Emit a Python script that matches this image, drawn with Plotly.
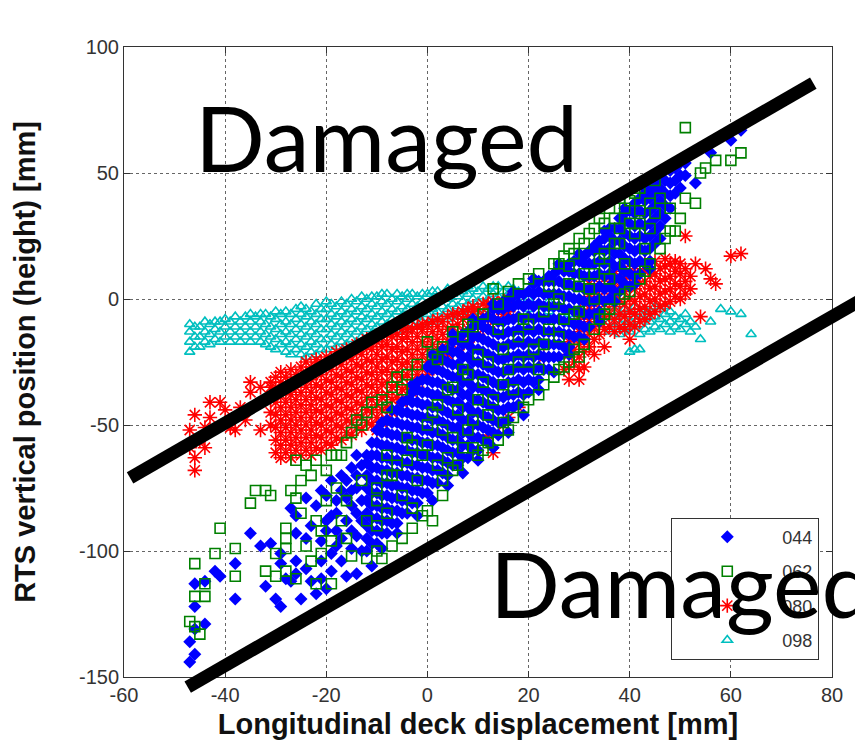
import plotly.graph_objects as go

# ---------------------------------------------------------------------------
# Measured points: longitudinal deck displacement [mm] vs RTS height [mm].
# Scattered points are (x, y) pairs; dense parts are (x, [y, y, ...]) columns.
# ---------------------------------------------------------------------------
tail_044 = [
    (-47,-144),(-46,-141),(-47,-136),(-46,-131),(-44,-129),(-46,-122),(-38,-119),(-46,-113),
    (-44,-112),(-41,-110),(-42,-108),(-38,-105),(-35,-93),(-33,-98),(-31,-97),(-32,-114),
    (-30,-119),(-29,-122),(-25,-119),(-22,-117),(-20,-115),(-27,-112),(-28,-111),(-26,-109),
    (-23,-112),(-21,-111),(-14,-109),(-11,-106),(-29,-101),(-29,-105),(-26,-104),(-24,-107),
    (-21,-104),(-27,-83),(-26,-86),(-24,-79),(-22,-82),(-21,-76),(-19,-72),(-17,-70),(-15,-67),
    (-14,-62),(-18,-85),(-18,-92),(-21,-96),(-24,-95),(-26,-93),(-15,-99),(-17,-95),(-15,-92),
    (-14,-85),(-16,-79),(-14,-75),(-19,-101),(-23,-90),(-20,-88),
    (-20,-92),(-19,-86),(-18,-80),(-17,-76),(-16,-72),(-16,-88),(-15,-82),(-15,-76),(-14,-70),
    (-14,-94),(-13,-88),(-13,-80),(-13,-66),(-19,-108),(-17,-104),(-16,-110),(-13,-100),
    (-18,-98),(-20,-78),
    (-9,-99),(-6,-93),(-2,-86),(1,-80),(4,-74),(7,-69),(10,-64),(13,-59),(16,-53),(19,-46),
    (22,-36),(25,-29),(28,-22),(31,-16),(34,-9),(37,-1),(41,6),(44,12),
    (-11,-57),(-7,-44),(-3,-34),(1,-22),(5,-14),(9,-8),(13,-2),(17,3),(21,8),(26,14),(30,18),
    (35,27),(39,36),(43,44),
    (53,46),(56,58),(60,63),(62,67),
]
core_044 = [
    (-12,[-100,-95,-90,-85,-80,-75,-70,-65,-62]),
    (-11,[-97,-92,-87,-82,-77,-72,-67,-62]),
    (-10,[-97,-92,-87,-82,-77,-72,-67,-62,-57,-52]),
    (-9,[-93,-88,-83,-78,-73,-68,-63,-58,-53,-49]),
    (-8,[-93,-88,-83,-78,-73,-68,-63,-58,-53,-48]),
    (-7,[-89,-84,-79,-74,-69,-64,-59,-54,-49]),
    (-6,[-89,-84,-79,-74,-69,-64,-59,-54,-49,-44]),
    (-5,[-85,-80,-75,-70,-65,-60,-55,-50,-45,-41]),
    (-4,[-85,-80,-75,-70,-65,-60,-55,-50,-45,-40]),
    (-3,[-81,-76,-71,-66,-61,-56,-51,-46,-41,-37]),
    (-2,[-81,-76,-71,-66,-61,-56,-51,-46,-41,-36,-33]),
    (-1,[-77,-72,-67,-62,-57,-52,-47,-42,-37,-32]),
    (0,[-77,-72,-67,-62,-57,-52,-47,-42,-37,-32,-27]),
    (1,[-73,-68,-63,-58,-53,-48,-43,-38,-33,-28,-25]),
    (2,[-73,-68,-63,-58,-53,-48,-43,-38,-33,-28,-23]),
    (3,[-69,-64,-59,-54,-49,-44,-39,-34,-29,-24,-20]),
    (4,[-70,-65,-60,-55,-50,-45,-40,-35,-30,-25,-20]),
    (5,[-66,-61,-56,-51,-46,-41,-36,-31,-26,-21,-17]),
    (6,[-66,-61,-56,-51,-46,-41,-36,-31,-26,-21,-16]),
    (7,[-63,-58,-53,-48,-43,-38,-33,-28,-23,-18,-14]),
    (8,[-63,-58,-53,-48,-43,-38,-33,-28,-23,-18,-13]),
    (9,[-60,-55,-50,-45,-40,-35,-30,-25,-20,-15,-11]),
    (10,[-60,-55,-50,-45,-40,-35,-30,-25,-20,-15,-10]),
    (11,[-56,-51,-46,-41,-36,-31,-26,-21,-16,-11,-8]),
    (12,[-57,-52,-47,-42,-37,-32,-27,-22,-17,-12,-7]),
    (13,[-53,-48,-43,-38,-33,-28,-23,-18,-13,-8,-4]),
    (14,[-54,-49,-44,-39,-34,-29,-24,-19,-14,-9,-4]),
    (15,[-49,-44,-39,-34,-29,-24,-19,-14,-9,-4,-1]),
    (16,[-48,-43,-38,-33,-28,-23,-18,-13,-8,-3,0]),
    (17,[-43,-38,-33,-28,-23,-18,-13,-8,-3,1]),
    (18,[-42,-37,-32,-27,-22,-17,-12,-7,-2,2]),
    (19,[-38,-33,-28,-23,-18,-13,-8,-3,2]),
    (20,[-37,-32,-27,-22,-17,-12,-7,-2,3]),
    (21,[-33,-28,-23,-18,-13,-8,-3,2,6]),
    (22,[-32,-27,-22,-17,-12,-7,-2,3,7]),
    (23,[-28,-23,-18,-13,-8,-3,2,7]),
    (24,[-28,-23,-18,-13,-8,-3,2,7,9]),
    (25,[-23,-18,-13,-8,-3,2,7,10]),
    (26,[-23,-18,-13,-8,-3,2,7,12]),
    (27,[-19,-14,-9,-4,1,6,11,13]),
    (28,[-19,-14,-9,-4,1,6,11,14]),
    (29,[-15,-10,-5,0,5,10,15]),
    (30,[-15,-10,-5,0,5,10,15]),
    (31,[-11,-6,-1,4,9,14,17]),
    (32,[-11,-6,-1,4,9,14,19]),
    (33,[-6,-1,4,9,14,19,21]),
    (34,[-5,0,5,10,15,20,23]),
    (35,[-1,4,9,14,19,24]),
    (36,[0,5,10,15,20,25,28]),
    (37,[3,8,13,18,23,28]),
    (38,[3,8,13,18,23,28,32]),
    (39,[6,11,16,21,26,31,34]),
    (40,[5,10,15,20,25,30,35]),
    (41,[9,14,19,24,29,34,38]),
    (42,[10,15,20,25,30,35,40]),
    (43,[14,19,24,29,34,39,42]),
    (44,[15,20,25,30,35,40,44]),
    (45,[22,27,32,37,42,46]),
    (46,[24,29,34,39,44,48]),
    (47,[32,37,42,47]),
    (48,[36,41,46,51]),
    (49,[42,47,52]),
    (50,[44,49,54]),
    (51,[49,54]),
]

pts_062 = [
    (-47,-128),(-46,-130),(-45,-133),(-46,-118),(-44,-118),(-44,-113),(-46,-105),(-42,-101),
    (-38,-99),(-41,-91),(-38,-110),(-35,-81),(-34,-76),(-32,-76),(-31,-78),(-27,-76),(-26,-79),
    (-26,-64),(-24,-66),(-23,-70),(-22,-64),(-25,-72),(-19,-62),(-17,-62),(-28,-91),(-28,-95),
    (-32,-108),(-30,-110),(-28,-108),(-24,-98),(-23,-104),(-21,-101),(-19,-113),(-22,-113),
    (-26,-111),(-15,-102),(-16,-95),(-28,-99),(-30,-101),(-20,-68),(-18,-75),(-16,-80),
    (-13,-72),(-20,-80),(-22,-88),(-19,-96),(-17,-88),(-25,-85),(-21,-92),
    (-12,-103),(-9,-103),(-7,-98),(-5,-95),(-3,-91),(-3,-83),(0,-84),(1,-88),(3,-72),(3,-78),
    (5,-68),(4,-63),(7,-59),(9,-59),(10,-62),(12,-57),(14,-56),(15,-49),(17,-47),(19,-43),
    (22,-38),(23,-34),(25,-31),(27,-27),(28,-25),(30,-23),(31,-18),(33,-12),(34,-8),(36,-4),
    (38,0),(40,3),(42,8),(44,14),(46,20),(48,27),(49,27),(48,36),(50,32),(53,38),(51,40),
    (-10,-100),(-1,-86),(6,-66),(11,-60),(16,-52),(20,-40),(26,-28),(29,-20),(35,-6),(39,2),
    (43,11),(47,24),
    (-18,-62),(-16,-57),(-15,-53),(-14,-48),(-12,-45),(-11,-41),(-9,-40),(-7,-35),(-6,-31),
    (-4,-30),(-2,-26),(0,-17),(1,-22),(3,-19),(5,-13),(7,-15),(9,-11),(11,-6),(13,4),(16,3),
    (18,6),(20,8),(22,10),(24,5),(26,14),(28,13),(29,18),(31,22),(32,26),(34,32),(37,32),
    (36,36),(38,40),(40,39),(42,44),(45,47),(-13,-50),(-8,-43),(-5,-36),(2,-24),(8,-10),(14,-2),
    (28,20),(30,24),(33,28),(35,30),(39,36),(41,42),(27,17),(25,14),
    (-10,-90),(-8,-85),(-10,-75),(-7,-70),(-5,-78),(-2,-72),(-8,-62),(-4,-55),(0,-50),(2,-42),
    (5,-35),(8,-30),(10,-40),(12,-25),(15,-20),(18,-15),(20,-25),(23,-5),(26,0),(30,5),(33,10),
    (35,18),(38,22),(40,30),(42,35),(44,28),
    (-10,-80),(-6,-66),(-3,-58),(-1,-62),(1,-45),(3,-52),(4,-36),(6,-44),(7,-28),(9,-48),
    (10,-22),(11,-33),(13,-40),(14,-12),(16,-28),(17,-36),(19,-8),(21,-20),(22,-28),(24,-12),
    (25,-2),(27,-8),(28,6),(30,-5),(31,10),(33,0),(34,16),(36,8),(37,22),(39,14),(41,26),
    (43,20),(45,34),(46,40),(-12,-88),(-8,-70),(-4,-64),(0,-58),(2,-66),(5,-55),(8,-52),
    (12,-46),(15,-34),(18,-25),(20,-10),(23,-18),(26,-15),(29,-6),(32,4),(35,12),(38,28),
    (42,30),(44,38),
    (51,68),(55,52),(57,55),(60,55),(62,58),(54,50),
]

tail_080 = [
    (-46,-46),(-46,-63),(-46,-68),(-45,-56),(-43,-47),(-41,-41),(-38,-52),(-37,-43),(-33,-52),
    (-35,-37),(-47,-59),(-44,-59),(-47,-52),(-44,-51),(-43,-41),(-39,-51),(-35,-33),(-33,-35),
    (-31,-33),(-40,-44),(-36,-48),
    (51,25),(55,12),(57,6),(60,17),(62,18),(54,-7),(40,-16),(30,-32),(28,-32),(31,-27),(27,-28),
    (23,-23),(18,-43),(13,-61),(12,-54),(15,-50),(16,-47),(33,-22),(35,-19),(56,8),(53,14),
]
core_080 = [
    (-31,[-50,-45,-40,-35]),
    (-30,[-61,-56,-51,-46,-41,-36,-31]),
    (-29,[-63,-58,-53,-48,-43,-38,-33,-29]),
    (-28,[-61,-56,-51,-46,-41,-36,-31]),
    (-27,[-63,-58,-53,-48,-43,-38,-33,-28]),
    (-26,[-60,-55,-50,-45,-40,-35,-30]),
    (-25,[-62,-57,-52,-47,-42,-37,-32,-27]),
    (-24,[-60,-55,-50,-45,-40,-35,-30,-25]),
    (-23,[-62,-57,-52,-47,-42,-37,-32,-27]),
    (-22,[-59,-54,-49,-44,-39,-34,-29,-24]),
    (-21,[-60,-55,-50,-45,-40,-35,-30,-25]),
    (-20,[-57,-52,-47,-42,-37,-32,-27,-23]),
    (-19,[-58,-53,-48,-43,-38,-33,-28,-24]),
    (-18,[-55,-50,-45,-40,-35,-30,-25,-21]),
    (-17,[-56,-51,-46,-41,-36,-31,-26,-22]),
    (-16,[-53,-48,-43,-38,-33,-28,-23,-20]),
    (-15,[-54,-49,-44,-39,-34,-29,-24,-20]),
    (-14,[-51,-46,-41,-36,-31,-26,-21,-18]),
    (-13,[-52,-47,-42,-37,-32,-27,-22,-18]),
    (-12,[-49,-44,-39,-34,-29,-24,-19,-16]),
    (-11,[-50,-45,-40,-35,-30,-25,-20,-16]),
    (-10,[-52,-47,-42,-37,-32,-27,-22,-17]),
    (-9,[-49,-44,-39,-34,-29,-24,-19,-15]),
    (-8,[-48,-43,-38,-33,-28,-23,-18,-14]),
    (-7,[-45,-40,-35,-30,-25,-20,-15]),
    (-6,[-44,-39,-34,-29,-24,-19,-14]),
    (-5,[-41,-36,-31,-26,-21,-16,-12]),
    (-4,[-40,-35,-30,-25,-20,-15,-12]),
    (-3,[-37,-32,-27,-22,-17,-12]),
    (-2,[-35,-30,-25,-20,-15,-11]),
    (-1,[-32,-27,-22,-17,-12,-10]),
    (0,[-30,-25,-20,-15,-10]),
    (1,[-28,-23,-18,-13,-9]),
    (2,[-26,-21,-16,-11,-8]),
    (3,[-24,-19,-14,-9]),
    (4,[-22,-17,-12,-7]),
    (5,[-21,-16,-11,-6]),
    (6,[-20,-15,-10,-6]),
    (7,[-18,-13,-8,-5]),
    (8,[-17,-12,-7,-4]),
    (9,[-15,-10,-5,-3]),
    (10,[-14,-9,-4]),
    (11,[-12,-7,-2]),
    (12,[-11,-6,-2]),
    (13,[-9,-4,-1]),
    (14,[-8,-3]),
    (15,[-6,-1]),
    (16,[-5,0]),
    (28,[-27,-22,-17]),
    (29,[-25,-20,-15]),
    (30,[-28,-23,-18,-13,-8]),
    (31,[-21,-16,-11,-6,-1]),
    (32,[-19,-14,-9,-4,1,6]),
    (33,[-16,-11,-6,-1,4]),
    (34,[-14,-9,-4,1,6]),
    (35,[-12,-7,-2,3,8]),
    (36,[-11,-6,-1,4,9]),
    (37,[-13,-8,-3,2,7,11]),
    (38,[-11,-6,-1,4,9]),
    (39,[-12,-7,-2,3,8,12]),
    (40,[-10,-5,0,5,10]),
    (41,[-11,-6,-1,4,9,13]),
    (42,[-9,-4,1,6,11]),
    (43,[-8,-3,2,7,12,15]),
    (44,[-6,-1,4,9,14]),
    (45,[-5,0,5,10,15]),
    (46,[-3,2,7,12]),
    (47,[-2,3,8,13,16]),
    (48,[-1,4,9,14]),
    (49,[1,6,11,15]),
    (50,[0,5,10,14]),
    (51,[2,7,12]),
    (52,[4,9]),
]

tail_098 = [
    (20,-4),(20,0),(22,-2),(22,2),(24,-5),(24,-1),(26,-3),(28,-6),(30,-4),(32,-7),(34,-5),
    (40,-21),(41,-20),(42,-20),(47,-3),(54,-16),(56,-9),(58,-4),(60,-5),(62,-6),(64,-14),
]
core_098 = [
    (-47,[-21,-17,-13,-10]),(-46,[-19,-15,-11]),(-45,[-19,-15,-11]),(-44,[-17,-13,-9]),
    (-43,[-18,-14,-10]),(-42,[-16,-12,-9]),(-41,[-17,-13,-9]),(-40,[-15,-11,-8]),
    (-39,[-17,-13,-9]),(-38,[-15,-11,-7]),(-37,[-17,-13,-9]),(-36,[-15,-11,-7]),
    (-35,[-17,-13,-9,-6]),(-34,[-15,-11,-7]),(-33,[-17,-13,-9,-6]),(-32,[-18,-14,-10,-6]),
    (-31,[-19,-15,-11,-7]),(-30,[-20,-16,-12,-8,-5]),(-29,[-18,-14,-10,-6]),
    (-28,[-21,-17,-13,-9,-5]),(-27,[-22,-18,-14,-10,-6]),(-26,[-20,-16,-12,-8,-4]),
    (-25,[-22,-18,-14,-10,-6,-3]),(-24,[-23,-19,-15,-11,-7,-4]),(-23,[-21,-17,-13,-9,-5]),
    (-22,[-22,-18,-14,-10,-6,-2]),(-21,[-20,-16,-12,-8,-4]),(-20,[-20,-16,-12,-8,-4,-1]),
    (-19,[-18,-14,-10,-6,-2]),(-18,[-19,-15,-11,-7,-3]),(-17,[-17,-13,-9,-5,-1]),
    (-16,[-18,-14,-10,-6,-2]),(-15,[-16,-12,-8,-4,0]),(-14,[-17,-13,-9,-5,-1]),
    (-13,[-15,-11,-7,-3,1]),(-12,[-16,-12,-8,-4,0]),(-11,[-14,-10,-6,-2,1]),
    (-10,[-15,-11,-7,-3,1]),(-9,[-13,-9,-5,-1,2]),(-8,[-14,-10,-6,-2,2]),
    (-7,[-12,-8,-4,0]),(-6,[-13,-9,-5,-1,2]),(-5,[-11,-7,-3,1]),(-4,[-12,-8,-4,0,2]),
    (-3,[-10,-6,-2,2]),(-2,[-11,-7,-3,1]),(-1,[-9,-5,-1,2]),(0,[-10,-6,-2,2]),
    (1,[-8,-4,0,3]),(2,[-9,-5,-1,3]),(3,[-7,-3,1]),(4,[-8,-4,0,4]),(5,[-6,-2,2]),
    (6,[-7,-3,1,4]),(7,[-5,-1,3]),(8,[-6,-2,2,5]),(9,[-4,0,4]),(10,[-5,-1,3]),
    (11,[-3,1,5]),(12,[-4,0,4]),(13,[-2,2,5]),(14,[-3,1,5]),(15,[-1,3]),(16,[-2,2,5]),
    (17,[0,4]),(18,[-1,3]),
    (36,[-13,-9,-5]),(37,[-11,-7,-3]),(38,[-14,-10,-6]),(39,[-12,-8,-4]),(40,[-13,-9,-5]),
    (41,[-11,-7,-3]),(42,[-14,-10,-6]),(43,[-12,-8,-4]),(44,[-13,-9,-5]),(45,[-11,-7,-3]),
    (46,[-12,-8,-4]),(47,[-10,-6]),(48,[-13,-9,-5]),(49,[-11,-7]),(50,[-12,-8]),
    (51,[-10,-6]),(52,[-13,-9]),(53,[-11]),
]

# Hand-drawn boundaries of the undamaged band, in data units (x, y)
upper_boundary = [(-58.8, -71.0), (76.3, 85.7)]
lower_boundary = [(-47.4, -154.0), (87.1, 1.2)]

X_RANGE = [-60, 80]
Y_RANGE = [-150, 100]
X_TICKS = [-60, -40, -20, 0, 20, 40, 60, 80]
Y_TICKS = [-150, -100, -50, 0, 50, 100]


def expand(columns, extra):
    pts = [(x, y) for x, ys in columns for y in ys]
    return pts + list(extra)


pts_044 = expand(core_044, tail_044)
pts_080 = expand(core_080, tail_080)
pts_098 = expand(core_098, tail_098)

# Series styling: (name, points, symbol, colour, size, legend rank); drawn back to front
series = [
    ("098", pts_098, "triangle-up-open", "#00BFBF", 9, 4),
    ("080", pts_080, "asterisk-open", "#FF0000", 12, 3),
    ("044", pts_044, "diamond", "#0000FF", 10, 1),
    ("062", pts_062, "square-open", "#008000", 10, 2),
]

fig = go.Figure()
for name, pts, symbol, colour, size, rank in series:
    fig.add_trace(go.Scatter(
        x=[p[0] for p in pts],
        y=[p[1] for p in pts],
        mode="markers",
        name=name,
        legendgroup=name,
        legendrank=rank,
        marker=dict(symbol=symbol, size=size, color=colour,
                    line=dict(color=colour, width=1.6 if "open" in symbol else 0)),
    ))


def to_paper(pt):
    x, y = pt
    return ((x - X_RANGE[0]) / (X_RANGE[1] - X_RANGE[0]),
            (y - Y_RANGE[0]) / (Y_RANGE[1] - Y_RANGE[0]))


for seg in (upper_boundary, lower_boundary):
    (x0, y0), (x1, y1) = to_paper(seg[0]), to_paper(seg[1])
    fig.add_shape(type="line", xref="paper", yref="paper", x0=x0, y0=y0, x1=x1, y1=y1,
                  line=dict(color="black", width=13), layer="above")

big_font = dict(family="Lato, Carlito, sans-serif", size=92, color="black")
fig.add_annotation(x=-46.4, y=64.5, xref="x", yref="y", text="Damaged", showarrow=False,
                   xanchor="left", yanchor="middle", font=big_font)
fig.add_annotation(x=12.0, y=-112.5, xref="x", yref="y", text="Damaged", showarrow=False,
                   xanchor="left", yanchor="middle", font=big_font)

axis_common = dict(
    showgrid=True, gridcolor="#666666", griddash="dot", gridwidth=1,
    showline=True, linecolor="#333333", linewidth=1, mirror="ticks",
    ticks="inside", ticklen=6, tickcolor="#333333", zeroline=False,
    tickfont=dict(family="Liberation Sans, Arial, sans-serif", size=20, color="#333333"),
)
title_font = dict(family="Liberation Sans, Arial, sans-serif", size=29, color="#111111")

fig.update_xaxes(range=X_RANGE, tickvals=X_TICKS, ticktext=[str(v) for v in X_TICKS],
                 **axis_common,
                 title=dict(text="<b>Longitudinal deck displacement [mm]</b>", standoff=8,
                            font=title_font))
fig.update_yaxes(range=Y_RANGE, tickvals=Y_TICKS, ticktext=[str(v) for v in Y_TICKS],
                 **axis_common,
                 title=dict(text="<b>RTS vertical position (height) [mm]</b>", standoff=34,
                            font=title_font))

fig.update_layout(
    width=855, height=748,
    margin=dict(l=124, r=21, t=47, b=71),
    paper_bgcolor="white", plot_bgcolor="white",
    legend=dict(x=0.773, y=0.253, xanchor="left", yanchor="top",
                bgcolor="white", bordercolor="#333333", borderwidth=1,
                tracegroupgap=8, itemwidth=100,
                font=dict(family="Liberation Sans, Arial, sans-serif", size=18, color="#333333")),
    showlegend=True,
)

fig.write_html("out.html")
